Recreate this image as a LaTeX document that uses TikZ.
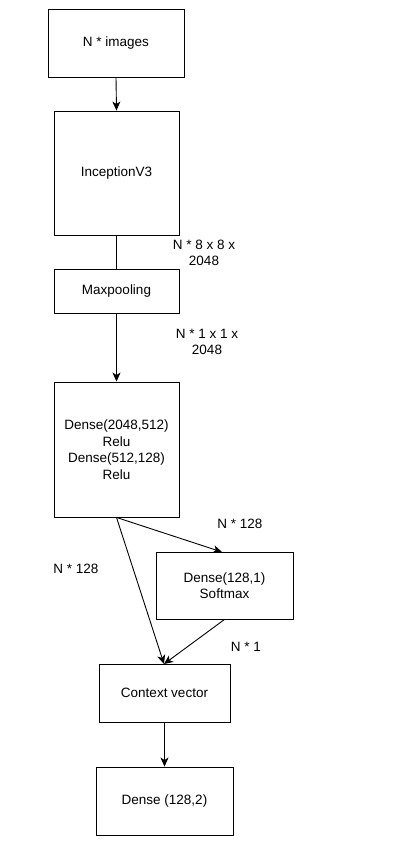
\documentclass[tikz,border=0pt]{standalone}
\usepackage{fontspec}
\setmainfont{Liberation Sans}
\usetikzlibrary{arrows.meta}
\begin{document}
\begin{tikzpicture}[x=1pt,y=-1pt,
  box/.style={draw=black,line width=0.9pt,rectangle,inner sep=0pt,align=center,font=\fontsize{13.5}{16.5}\selectfont},
  lbl/.style={align=center,inner sep=0pt,font=\fontsize{13.5}{16}\selectfont},
  conn/.style={draw=black,line width=0.9pt},
  arr/.style={conn,-{Stealth[length=9pt,width=8pt,inset=2.5pt]}}]
\useasboundingbox (0,0) rectangle (400,848);
\node[box,minimum width=136pt,minimum height=68pt] (b1) at (116,43) {N * images};
\node[box,minimum width=125pt,minimum height=124pt] (b2) at (116.5,173) {InceptionV3};
\node[box,minimum width=125pt,minimum height=44pt] (b3) at (116.5,291) {Maxpooling};
\node[box,minimum width=125pt,minimum height=135pt] (b4) at (116.5,449.5) {Dense(2048,512)\\Relu\\Dense(512,128)\\Relu};
\node[box,minimum width=137pt,minimum height=67pt] (b5) at (224.5,585.5) {Dense(128,1)\\Softmax};
\node[box,minimum width=131pt,minimum height=58pt] (b6) at (164.5,693) {Context vector};
\node[box,minimum width=137pt,minimum height=68pt] (b7) at (164.5,801) {Dense (128,2)};
\coordinate (c5in) at (222,552);
\coordinate (c6in) at (164,664);
\node[lbl] (l1) at (204,252.5) {N * 8 x 8 x\\2048};
\node[lbl] (l2) at (207,342) {N * 1 x 1 x\\2048};
\node[lbl] (l3) at (240,524) {N * 128};
\node[lbl] (l4) at (76,569) {N * 128};
\node[lbl] (l5) at (246,647) {N * 1};
\draw[arr] (b1.south) -- (b2.north);
\draw[conn] (b2.south) -- (b3.north);
\draw[arr] (b3.south) -- (b4.north);
\draw[arr] (b4.south) -- (c5in);
\draw[arr] (b4.south) -- (c6in);
\draw[arr] (b5.south) -- (c6in);
\draw[arr] (b6.south) -- (b7.north);
\end{tikzpicture}
\end{document}
